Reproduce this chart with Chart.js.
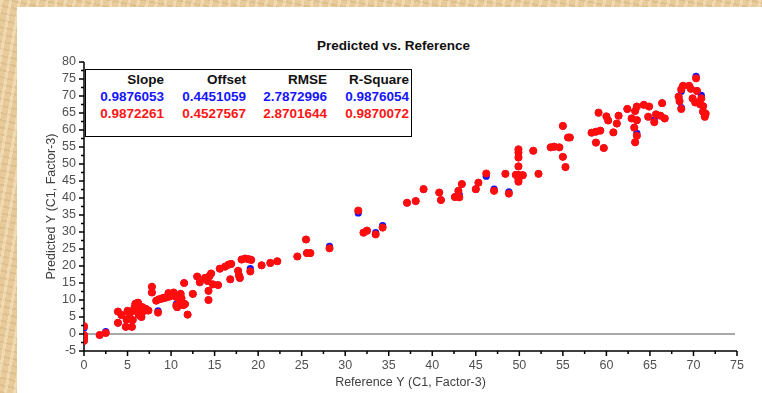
<!DOCTYPE html>
<html>
<head>
<meta charset="utf-8">
<script src="https://cdn.jsdelivr.net/npm/chart.js@4/dist/chart.umd.min.js"></script>
<style>
  html, body { margin: 0; padding: 0; }
  body {
    width: 762px; height: 393px; overflow: hidden; position: relative;
    background-color: #e8cb9a;
    background-image:
      repeating-linear-gradient(100deg, rgba(255,242,215,.4) 0 3px, transparent 3px 9px),
      repeating-linear-gradient(12deg, rgba(150,100,45,.12) 0 2px, transparent 2px 7px);
    font-family: "Liberation Sans", Arial, sans-serif;
  }
  #panel { position: absolute; left: 17px; top: 7px; right: 0; bottom: 0; background: #fff; }
  #wrap { position: absolute; left: 0; top: 0; width: 762px; height: 393px; }
  #title {
    position: absolute; left: 17px; right: 0; top: 38px; padding-left: 8px;
    text-align: center; font: bold 13.5px "Liberation Sans", Arial, sans-serif; color: #111;
  }
  #stats {
    position: absolute; left: 85px; top: 69px; width: 325px; height: 66px;
    border: 1px solid #000; background: #fff;
  }
  #stats table { border-collapse: collapse; table-layout: fixed; margin-top: 1px; }
  #stats td {
    padding: 0; height: 17px; line-height: 17px; text-align: right;
    font: bold 13.5px "Liberation Sans", Arial, sans-serif; white-space: nowrap;
  }
  #stats tr.hdr td { color: #111; }
  #stats tr.blue td { color: #1515ff; }
  #stats tr.red td { color: #ff1515; }
</style>
</head>
<body>
<div id="panel"></div>
<div id="title">Predicted vs. Reference</div>
<div id="wrap"><canvas id="c" width="762" height="393"></canvas></div>
<div id="stats"><table><colgroup><col style="width:78px"><col style="width:82px"><col style="width:81px"><col style="width:82px"></colgroup><tbody></tbody></table></div>

<script>
// valeurs
const statHeaders = ['Slope', 'Offset', 'RMSE', 'R-Square'];
const statsBlue = ['0.9876053', '0.4451059', '2.7872996', '0.9876054'];
const statsRed  = ['0.9872261', '0.4527567', '2.8701644', '0.9870072'];

const xRange = [0, 75];
const yRange = [-5, 80];
const tickStep = 5;

const refY = [
  0, 0, 0, 0, 1.8, 2.5, 3.9, 3.9, 4.3, 4.8,
  4.9, 5.0, 5.2, 5.5, 5.5, 5.6, 5.8, 5.9, 6.1, 6.2,
  6.3, 6.4, 6.6, 6.7, 6.9, 7.1, 7.4, 7.8, 7.8, 8.3,
  8.5, 8.6, 8.9, 9.1, 9.4, 9.7, 9.8, 10.1, 10.3, 10.5,
  10.6, 10.7, 10.9, 11.1, 11.2, 11.4, 11.5, 11.6, 11.9, 12.5,
  13.0, 13.3, 13.9, 14.2, 14.3, 14.3, 14.4, 14.6, 14.8, 15.4,
  15.6, 16.2, 16.6, 16.8, 16.9, 17.7, 17.8, 17.9, 18.1, 18.5,
  18.9, 19.2, 19.1, 20.4, 21.4, 22.2, 24.5, 25.5, 25.6, 26.0,
  28.2, 31.5, 32.1, 32.5, 33.5, 34.3, 37.1, 38.1, 39.0, 40.8,
  41.0, 42.6, 43.1, 43.0, 43.4, 45.0, 45.3, 46.2, 47.1, 48.4,
  48.8, 49.6, 49.9, 49.9, 49.9, 49.9, 49.9, 49.9, 49.9, 50.4,
  51.6, 52.2, 53.6, 54.0, 54.6, 55.0, 55.0, 55.3, 55.6, 55.8,
  58.3, 58.8, 58.8, 59.1, 59.3, 59.7, 60.0, 60.2, 60.8, 61.2,
  61.4, 62.4, 62.9, 63.2, 63.3, 63.3, 63.5, 63.5, 63.5, 64.3,
  64.8, 64.9, 65.5, 65.7, 66.2, 66.4, 66.7, 68.3, 68.4, 68.6,
  68.6, 68.8, 69.5, 69.7, 69.9, 70.2, 70.3, 70.4, 70.75, 70.9,
  71.1, 71.1, 71.3, 71.4
];

// série rouge (au premier plan)
const predRed = [
  2.3, -0.3, -1.2, -2.0, -0.3, 0.3, 6.6, 3.3, 5.6, 2.1,
  4.2, 6.8, 5.9, 2.1, 6.6, 4.1, 7.8, 8.9, 7.0, 9.2,
  5.6, 6.4, 5.0, 7.9, 6.8, 7.4, 6.9, 13.9, 12.2, 9.8,
  6.3, 10.2, 10.4, 10.6, 10.7, 12.0, 11.0, 11.6, 12.2, 11.0,
  8.3, 7.9, 10.2, 11.8, 10.5, 8.5, 15.0, 8.8, 5.7, 11.8,
  16.9, 15.2, 16.5, 15.6, 12.7, 10.0, 17.0, 17.8, 14.6, 14.4,
  19.2, 19.8, 20.4, 16.1, 20.6, 18.6, 17.2, 16.5, 21.9, 22.2,
  22.0, 21.8, 18.4, 20.2, 20.9, 21.4, 22.8, 27.8, 23.8, 23.8,
  25.2, 36.3, 29.8, 30.4, 29.3, 31.3, 38.6, 39.1, 42.6, 41.6,
  39.4, 40.3, 40.2, 42.1, 44.1, 42.6, 44.5, 47.2, 42.1, 47.1,
  41.3, 46.8, 54.3, 53.4, 51.9, 49.3, 46.8, 45.4, 44.8, 46.7,
  53.9, 47.1, 54.9, 55.1, 54.9, 61.2, 52.1, 49.1, 57.8, 57.8,
  59.2, 59.5, 56.3, 65.1, 59.8, 54.7, 64.0, 62.8, 59.3, 61.9,
  64.2, 66.2, 63.4, 60.7, 65.6, 56.4, 66.9, 58.3, 62.9, 67.4,
  63.9, 66.9, 62.3, 64.6, 64.2, 67.9, 63.4, 69.8, 68.5, 66.2,
  72.0, 73.0, 73.0, 72.1, 69.3, 68.1, 75.2, 71.5, 67.6, 69.3,
  65.4, 67.0, 63.9, 64.8
];

// série bleue (derrière, visible seulement là où elle s'écarte)
const predBlue = [
  1.8, -0.3, -1.2, -2.0, -0.3, 0.7, 6.6, 3.3, 5.6, 2.1,
  4.2, 6.8, 5.9, 2.1, 6.6, 4.1, 7.8, 8.9, 7.0, 9.2,
  5.6, 6.4, 5.0, 7.9, 6.8, 7.4, 6.9, 13.9, 12.2, 9.8,
  6.8, 10.2, 10.4, 10.6, 10.7, 12.0, 11.0, 11.6, 12.2, 11.0,
  8.8, 7.9, 10.2, 11.8, 10.5, 8.5, 15.0, 8.8, 5.7, 11.8,
  16.9, 15.2, 16.5, 15.6, 12.7, 10.0, 17.0, 17.8, 14.6, 14.4,
  19.2, 19.8, 20.4, 16.1, 20.6, 18.6, 17.2, 16.5, 21.9, 22.2,
  22.0, 21.8, 19.2, 20.2, 20.9, 21.4, 22.8, 27.8, 23.8, 23.8,
  25.8, 35.6, 29.8, 30.4, 29.8, 31.9, 38.6, 39.1, 42.6, 41.6,
  39.4, 40.3, 41.0, 42.1, 44.1, 42.6, 44.5, 46.4, 42.6, 47.1,
  41.8, 46.8, 54.3, 53.4, 51.9, 49.3, 46.8, 46.5, 44.8, 46.7,
  53.9, 47.1, 54.9, 55.1, 54.9, 61.2, 52.1, 49.1, 57.8, 57.8,
  59.2, 59.5, 56.3, 65.1, 59.8, 54.7, 64.0, 62.8, 59.3, 61.9,
  64.2, 66.2, 63.4, 60.7, 65.6, 56.4, 66.9, 59.0, 62.9, 67.4,
  63.9, 66.9, 62.9, 64.6, 64.2, 67.9, 63.4, 69.8, 68.5, 66.6,
  71.4, 73.0, 73.0, 72.1, 69.3, 68.1, 75.8, 71.5, 67.6, 70.2,
  65.4, 67.0, 63.9, 64.8
];

/* tableau des stats */
const tbody = document.querySelector('#stats tbody');
tbody.innerHTML = [
  ['hdr', statHeaders], ['blue', statsBlue], ['red', statsRed]
].map(([cls, row]) => `<tr class="${cls}">${row.map(v => `<td>${v}</td>`).join('')}</tr>`).join('');

const toPts = (xs, ys) => xs.map((x, i) => ({ x, y: ys[i] }));

/* axes à la main : ligne zéro, axes noirs, graduations majeures/mineures */
const axesPlugin = {
  id: 'axesPlugin',
  beforeDatasetsDraw(chart) {
    const { ctx, chartArea: a, scales: { x, y } } = chart;
    ctx.save();
    const y0 = y.getPixelForValue(0);
    ctx.strokeStyle = '#a9a9a9';
    ctx.lineWidth = 2;
    ctx.beginPath(); ctx.moveTo(a.left, y0); ctx.lineTo(a.right - 2, y0); ctx.stroke();

    ctx.strokeStyle = '#000';
    ctx.lineWidth = 1.5;
    ctx.beginPath();
    ctx.moveTo(a.left, a.top); ctx.lineTo(a.left, a.bottom); ctx.lineTo(a.right, a.bottom);
    for (let v = xRange[0]; v <= xRange[1]; v += 2.5) {
      const px = x.getPixelForValue(v);
      ctx.moveTo(px, a.bottom); ctx.lineTo(px, a.bottom + (v % 5 === 0 ? 5 : 3));
    }
    for (let v = yRange[0]; v <= yRange[1]; v += 2.5) {
      const py = y.getPixelForValue(v);
      ctx.moveTo(a.left, py); ctx.lineTo(a.left - (v % 5 === 0 ? 5 : 3), py);
    }
    ctx.stroke();
    ctx.restore();
  }
};

const tickFont = { family: '"Liberation Sans", Arial, sans-serif', size: 12.5 };

new Chart(document.getElementById('c'), {
  type: 'scatter',
  data: {
    datasets: [
      { label: 'Red', data: toPts(refY, predRed), backgroundColor: '#ff0d0d', borderColor: '#ff0d0d', borderWidth: 1, pointRadius: 3.6 },
      { label: 'Blue', data: toPts(refY, predBlue), backgroundColor: '#1010ff', borderWidth: 0, pointRadius: 3.6 }
    ]
  },
  options: {
    responsive: false,
    animation: false,
    events: [],
    layout: { padding: { top: 62, right: 25, left: 0, bottom: 0 } },
    plugins: { legend: { display: false }, tooltip: { enabled: false } },
    scales: {
      x: {
        type: 'linear', min: xRange[0], max: xRange[1],
        grid: { display: false, drawTicks: false }, border: { display: false },
        ticks: { stepSize: tickStep, autoSkip: false, color: '#505050', font: tickFont, padding: 7.5, maxRotation: 0 },
        title: { display: true, text: 'Reference Y (C1, Factor-3)', color: '#404040', font: tickFont, padding: { top: 0, bottom: 2.5 } },
        afterFit: s => { s.height = 42; }
      },
      y: {
        type: 'linear', min: yRange[0], max: yRange[1],
        grid: { display: false, drawTicks: false }, border: { display: false },
        ticks: { stepSize: tickStep, autoSkip: false, color: '#505050', font: tickFont, padding: 8 },
        title: { display: true, text: 'Predicted Y (C1, Factor-3)', color: '#404040', font: tickFont, padding: { top: 44.5, bottom: 0 } },
        afterFit: s => { s.width = 84; }
      }
    }
  },
  plugins: [axesPlugin]
});
</script>
</body>
</html>
